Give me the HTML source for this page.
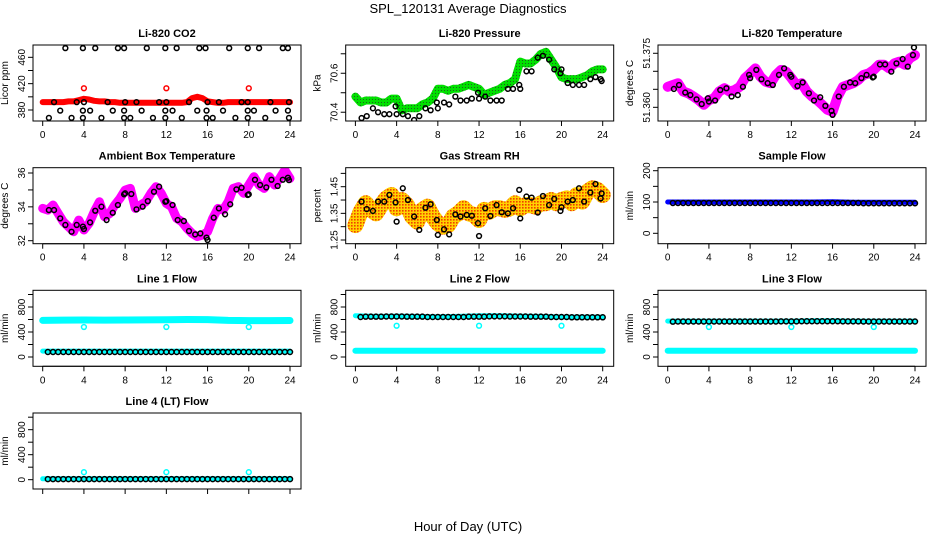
<!DOCTYPE html>
<html><head><meta charset="utf-8"><style>
html,body{margin:0;padding:0;background:#fff;width:936px;height:540px;overflow:hidden}
svg{display:block;font-family:"Liberation Sans",Arial,sans-serif}
</style></head><body>
<svg id="chart" width="936" height="540" viewBox="0 0 936 540">
<defs>
<pattern id="pGreen" width="3" height="3" patternUnits="userSpaceOnUse"><rect width="3" height="3" fill="#00e000"/><rect width="1" height="1" fill="#206020"/></pattern>
<pattern id="pOrange" width="3" height="3" patternUnits="userSpaceOnUse"><rect width="3" height="3" fill="#ffd200"/><rect width="1.6" height="1.6" fill="#f04000"/></pattern>
</defs>
<text x="468" y="13" text-anchor="middle" font-size="13">SPL_120131  Average Diagnostics</text>
<text x="468" y="531" text-anchor="middle" font-size="13">Hour of Day (UTC)</text>
</svg>
<script>
// ---- shared data ----
const blackHours=[0.6,1.1,1.7,2.2,2.8,3.3,3.9,4.0,4.6,5.1,5.7,6.2,6.8,7.3,7.9,8.0,8.6,9.1,9.7,10.2,10.8,11.3,11.9,12.0,12.6,13.1,13.7,14.2,14.8,15.3,15.9,16.0,16.6,17.1,17.7,18.2,18.8,19.3,19.9,20.0,20.6,21.1,21.7,22.2,22.8,23.3,23.8,23.9];
const halfHours=[0,0.5,1,1.5,2,2.5,3,3.5,4,4.5,5,5.5,6,6.5,7,7.5,8,8.5,9,9.5,10,10.5,11,11.5,12,12.5,13,13.5,14,14.5,15,15.5,16,16.5,17,17.5,18,18.5,19,19.5,20,20.5,21,21.5,22,22.5,23,23.5,24];
const twoHours=[0,2,4,6,8,10,12,14,16,18,20,22,24];
const outlierHours=[4,12,20];
const xTicks=[0,4,8,12,16,20,24];
// CO2
const co2BlackHours=[2.2,3.9,5.1,7.3,7.9,10.1,11.9,13.0,15.2,15.8,18.1,19.9,21.0,23.3,23.8,0.6,2.8,3.9,5.7,7.9,8.5,10.7,11.9,13.5,15.9,16.5,18.7,19.9,21.6,23.9,1.7,3.9,4.6,6.8,7.9,9.6,11.9,12.6,15.0,15.9,17.5,19.9,20.5,22.6,23.8,1.1,3.3,4.0,6.3,8.0,9.1,11.3,12.0,14.2,16.0,17.1,19.3,19.9,22.1,23.9];
const co2BlackValues=[474,474,474,474,474,474,474,474,474,474,474,474,474,474,474,368,368,368,368,368,368,368,368,368,368,368,368,368,368,368,379,379,379,379,379,379,379,379,379,379,379,379,379,379,379,392,392,392,392,392,392,392,392,392,392,392,392,392,392,392];
const co2RedValues=[392,392,392,392,392,393,393,395,397,396,394,393,393,392,392,391,391,391,391,391,391,391,391,391,391,391,391,391,392,398,400,398,393,392,391,391,392,392,392,392,392,392,392,392,392,392,392,392,392];
const co2RedOutliers=[413,413,413];
// Pressure
const presBlack=[70.37,70.38,70.42,70.40,70.39,70.39,70.43,70.39,70.39,70.38,70.36,70.38,70.42,70.41,70.45,70.42,70.45,70.44,70.48,70.46,70.46,70.47,70.50,70.47,70.48,70.46,70.46,70.46,70.52,70.52,70.54,70.52,70.61,70.61,70.68,70.69,70.67,70.62,70.60,70.62,70.55,70.54,70.54,70.54,70.57,70.58,70.57,70.56];
const presGreen=[70.48,70.45,70.46,70.46,70.46,70.45,70.45,70.47,70.47,70.41,70.42,70.42,70.42,70.44,70.45,70.47,70.52,70.52,70.51,70.52,70.52,70.53,70.54,70.53,70.52,70.49,70.50,70.51,70.52,70.54,70.55,70.57,70.66,70.65,70.65,70.67,70.70,70.71,70.67,70.63,70.58,70.57,70.57,70.57,70.58,70.59,70.61,70.62,70.62];
// Li-820 temperature
const tempMagenta=[51.3657,51.3662,51.3667,51.3644,51.3639,51.3630,51.3620,51.3607,51.3620,51.3625,51.3644,51.3653,51.3644,51.3648,51.3657,51.3681,51.3694,51.3708,51.3685,51.3671,51.3667,51.3690,51.3704,51.3699,51.3681,51.3662,51.3667,51.3644,51.3630,51.3620,51.3607,51.3593,51.3588,51.3630,51.3657,51.3662,51.3667,51.3676,51.3690,51.3694,51.3704,51.3718,51.3718,51.3708,51.3722,51.3727,51.3718,51.3736,51.3745];
const tempBlack=[51.3651,51.3662,51.3641,51.3634,51.3622,51.3609,51.3625,51.3616,51.3619,51.3648,51.3653,51.3630,51.3634,51.3657,51.3690,51.3681,51.3704,51.3678,51.3667,51.3662,51.3690,51.3708,51.3690,51.3685,51.3659,51.3669,51.3639,51.3619,51.3628,51.3604,51.3590,51.3579,51.3630,51.3657,51.3669,51.3667,51.3681,51.3690,51.3683,51.3685,51.3719,51.3719,51.3699,51.3722,51.3734,51.3713,51.3745,51.3766];
// Ambient
const ambMagenta=[33.91,33.81,34.11,33.61,33.12,32.83,32.53,33.22,32.63,33.02,33.71,34.30,33.42,33.61,34.11,34.50,34.99,35.09,33.91,34.11,34.30,34.80,35.19,34.80,34.20,34.01,33.32,33.12,32.73,32.43,32.24,32.33,32.53,33.32,33.91,33.81,34.30,35.09,35.19,34.80,35.29,35.78,35.29,35.09,35.78,35.29,35.68,36.17,35.68];
const ambBlack=[33.81,33.81,33.32,32.93,32.53,32.93,32.83,32.69,33.08,33.77,34.01,33.22,33.65,34.11,34.74,34.80,34.76,33.85,34.01,34.34,34.89,35.19,34.30,34.34,34.11,33.22,33.16,32.57,32.37,32.43,32.18,32.04,33.36,33.91,33.56,34.15,35.03,35.13,34.70,34.74,35.60,35.29,35.15,35.60,35.23,35.60,35.72,35.58];
// RH
const rhOrange=[1.306,1.356,1.388,1.363,1.350,1.381,1.406,1.419,1.369,1.400,1.381,1.338,1.319,1.363,1.375,1.338,1.313,1.300,1.306,1.338,1.350,1.369,1.350,1.344,1.325,1.363,1.356,1.369,1.369,1.363,1.369,1.388,1.369,1.381,1.381,1.375,1.388,1.388,1.400,1.388,1.400,1.406,1.388,1.419,1.394,1.431,1.444,1.438,1.419];
const rhBlack=[1.394,1.366,1.359,1.394,1.394,1.419,1.391,1.319,1.444,1.400,1.338,1.288,1.371,1.384,1.325,1.269,1.290,1.271,1.346,1.338,1.344,1.341,1.313,1.265,1.369,1.340,1.381,1.354,1.350,1.369,1.438,1.331,1.413,1.409,1.353,1.415,1.381,1.404,1.359,1.373,1.394,1.400,1.444,1.394,1.428,1.460,1.406,1.425];
// Flows (2-hourly levels)
const sampleBlue=[100,100,100,100,100,100,100,100,101,99,99,99,99];
const sampleBlack=[97,97,97,97,97,97,97,97,97,97,96,96,96];
const line1CyanHigh=[585,590,592,590,592,594,596,600,598,586,582,582,584];
const line1CyanLow=[95,95,95,95,95,95,95,95,95,95,95,95,95];
const line1Black=[80,80,80,80,80,80,80,80,80,80,80,80,80];
const line1Outliers=[480,480,480];
const line2CyanHigh=[660,650,655,650,645,650,660,660,655,650,640,640,640];
const line2CyanLow=[100,100,100,100,100,100,100,100,100,100,100,100,100];
const line2Black=[640,645,648,645,640,640,645,650,648,645,640,635,635];
const line2Outliers=[500,500,500];
const line3CyanHigh=[575,575,575,575,575,575,575,580,580,575,575,575,575];
const line3CyanLow=[100,100,100,100,100,100,100,100,100,100,100,100,100];
const line3Black=[565,568,568,568,568,568,570,572,572,570,568,568,568];
const line3Outliers=[480,480,480];
const line4Cyan=[15,15,15,15,15,15,15,15,15,15,15,15,15];
const line4Black=[10,10,10,10,10,10,10,10,10,10,10,10,10];
const line4Outliers=[120,120,120];

const NS="http://www.w3.org/2000/svg";
const svg=document.getElementById('chart');
const colLeft=[33,345.7,658], rowTop=[45,167.7,290.3,413], W=268, H=76;
function mk(tag,attrs,parent){const e=document.createElementNS(NS,tag);for(const k in attrs)e.setAttribute(k,attrs[k]);(parent||svg).appendChild(e);return e;}
function fmt(v){return String(v);}

function panel(id,col,row,title,ylab,yTop,yBot,ticks,labels){
  const L=colLeft[col],T=rowTop[row];
  const g=mk('g',{});
  
  
  const xs=h=>L+9.7+(h/24)*247.3;
  const ys=v=>T+(yTop-v)/(yTop-yBot)*H;
  const cp=mk('clipPath',{id:'clip-'+id},g);
  mk('rect',{x:L,y:T,width:W,height:H},cp);
  const t=mk('text',{x:L+W/2,y:T-8,'text-anchor':'middle','font-size':11,'font-weight':'bold'},g);
  t.textContent=title;
  
  
  const yl=mk('text',{transform:`translate(${L-25},${T+H/2}) rotate(-90)`,'text-anchor':'middle','font-size':10},g);
  yl.textContent=ylab;
  
  
  const plot=mk('g',{'clip-path':`url(#clip-${id})`},g);
  
  
  const box=mk('rect',{x:L,y:T,width:W,height:H,fill:'none',stroke:'#000','stroke-width':1},g);
  
  
  const xa=mk('g',{},g);
  
  
  mk('line',{x1:xs(0),x2:xs(24),y1:T+H,y2:T+H,stroke:'#000'},xa);
  xTicks.forEach(v=>{
    mk('line',{x1:xs(v),x2:xs(v),y1:T+H,y2:T+H+5,stroke:'#000'},xa);
    if(row<3){const tl=mk('text',{x:xs(v),y:T+H+17,'text-anchor':'middle','font-size':10},xa);
    tl.textContent=v;
    
    }
  });
  const ya=mk('g',{},g);
  
  
  ticks.forEach(v=>{
    mk('line',{x1:L-5,x2:L,y1:ys(v),y2:ys(v),stroke:'#000'},ya);
    if(labels.includes(v)){const tl=mk('text',{transform:`translate(${L-8},${ys(v)}) rotate(-90)`,'text-anchor':'middle','font-size':10},ya);
    tl.textContent=(typeof v==='number'&&id==='temp')?v.toFixed(3):(id==='rh'?v.toFixed(2):fmt(v));
    
    }
  });
  return {plot,xs,ys};
}
function band(p,hours,vals,stroke,width,name){
  const pts=hours.map((h,i)=>p.xs(h).toFixed(1)+','+p.ys(vals[i]).toFixed(1)).join(' ');
  const e=mk('polyline',{points:pts,fill:'none',stroke:stroke,'stroke-width':width,'stroke-linejoin':'round','stroke-linecap':'round'},p.plot);
  
  
}
function pts(p,hours,vals,color,name,r){
  hours.forEach((h,i)=>{
    const c=mk('circle',{cx:p.xs(h),cy:p.ys(vals[i]),r:r||2.4,fill:'none',stroke:color,'stroke-width':1.5},p.plot);
    
    
  });
}
function densePts(p,vals,color,name){
  pts(p,halfHours.slice(1),halfHours.slice(1).map(h=>vals[Math.min(12,Math.round(h/2))]),color,name,2.5);
}

let p;
p=panel('co2',0,0,'Li-820 CO2','Licor ppm',478.7,363.3,[380,400,420,440,460],[380,420,460]);
band(p,halfHours,co2RedValues,'#ff0000',6,'co2-red-series');
pts(p,outlierHours,co2RedOutliers,'#ff0000','co2-red-outlier');
pts(p,co2BlackHours,co2BlackValues,'#000','co2-black-point');

p=panel('pres',1,0,'Li-820 Pressure','kPa',70.745,70.355,[70.4,70.5,70.6,70.7],[70.4,70.6]);
band(p,halfHours,presGreen,'url(#pGreen)',8,'pressure-green-series');
pts(p,blackHours,presBlack,'#000','pressure-black-point');

p=panel('temp',2,0,'Li-820 Temperature','degrees C',51.3773,51.3562,[51.360,51.365,51.370,51.375],[51.360,51.375]);
band(p,halfHours,tempMagenta,'#ff00ff',10,'temp-magenta-series');
pts(p,blackHours,tempBlack,'#000','temp-black-point');

p=panel('amb',0,1,'Ambient Box Temperature','degrees C',36.313,31.823,[32,33,34,35,36],[32,34,36]);
band(p,halfHours,ambMagenta,'#ff00ff',9,'ambient-magenta-series');
pts(p,blackHours,ambBlack,'#000','ambient-black-point');

p=panel('rh',1,1,'Gas Stream RH','percent',1.5213,1.2361,[1.25,1.30,1.35,1.40,1.45,1.50],[1.25,1.35,1.45]);
band(p,halfHours,rhOrange,'url(#pOrange)',16,'rh-orange-series');
pts(p,blackHours,rhBlack,'#000','rh-black-point');

p=panel('sample',2,1,'Sample Flow','ml/min',209.6,-33.2,[0,50,100,150,200],[0,100,200]);
band(p,twoHours,sampleBlue,'#0000ff',5,'sample-blue-series');
densePts(p,sampleBlack,'#000','sample-black-point');

const flowTicks=[0,200,400,600,800,1000], flowLabels=[0,400,800];
p=panel('line1',0,2,'Line 1 Flow','ml/min',1067,-149,flowTicks,flowLabels);
band(p,twoHours,line1CyanHigh,'#00ffff',7,'line1-cyan-high');
band(p,twoHours,line1CyanLow,'#00ffff',5,'line1-cyan-low');
pts(p,outlierHours,line1Outliers,'#00ffff','line1-outlier');
densePts(p,line1Black,'#000','line1-black-point');

p=panel('line2',1,2,'Line 2 Flow','ml/min',1067,-149,flowTicks,flowLabels);
band(p,twoHours,line2CyanHigh,'#00ffff',5,'line2-cyan-high');
band(p,twoHours,line2CyanLow,'#00ffff',6,'line2-cyan-low');
pts(p,outlierHours,line2Outliers,'#00ffff','line2-outlier');
densePts(p,line2Black,'#000','line2-black-point');

p=panel('line3',2,2,'Line 3 Flow','ml/min',1067,-149,flowTicks,flowLabels);
band(p,twoHours,line3CyanHigh,'#00ffff',5,'line3-cyan-high');
band(p,twoHours,line3CyanLow,'#00ffff',6,'line3-cyan-low');
pts(p,outlierHours,line3Outliers,'#00ffff','line3-outlier');
densePts(p,line3Black,'#000','line3-black-point');

p=panel('line4',0,3,'Line 4 (LT) Flow','ml/min',1067,-149,flowTicks,flowLabels);
band(p,twoHours,line4Cyan,'#00ffff',5,'line4-cyan-series');
pts(p,outlierHours,line4Outliers,'#00ffff','line4-outlier');
densePts(p,line4Black,'#000','line4-black-point');
</script>
</body></html>
